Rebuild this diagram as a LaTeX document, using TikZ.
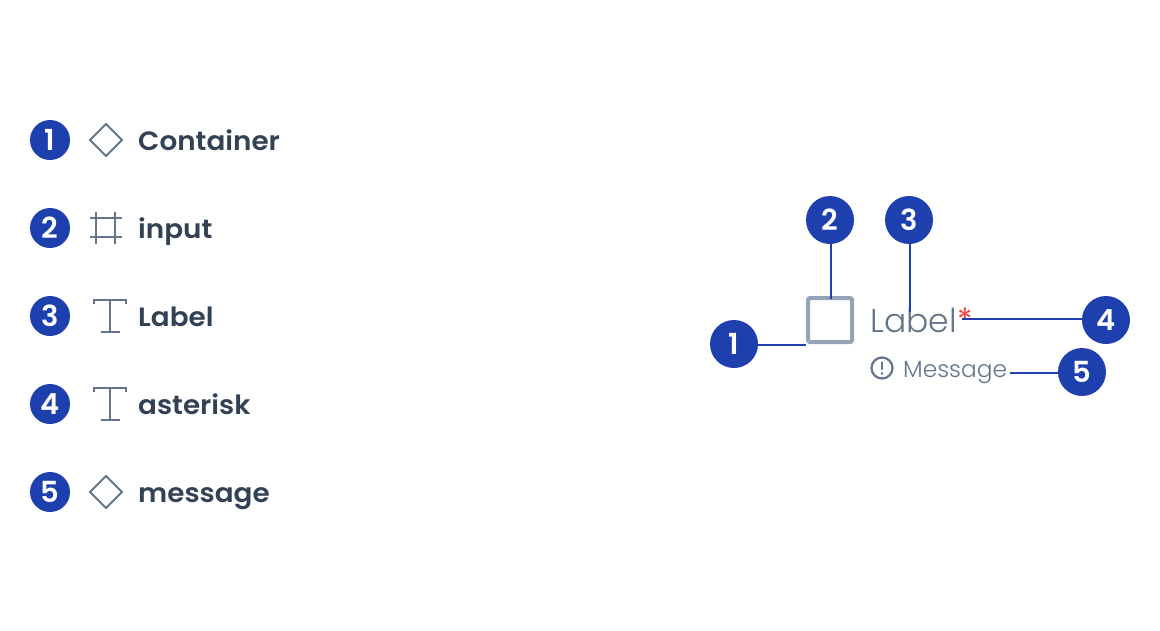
\documentclass[tikz,border=0pt]{standalone}
\usepackage{fontspec}
\setmainfont{Poppins}
\newfontfamily\med{Poppins SemiBold}
\newfontfamily\wmed[FakeStretch=1.05]{Poppins SemiBold}
\newfontfamily\reg{Poppins}
\newfontfamily\lite{Poppins Light}
\definecolor{badge}{HTML}{1E40AF}
\definecolor{ink}{HTML}{334155}
\definecolor{slate}{HTML}{64748B}
\definecolor{frame}{HTML}{94A3B8}
\definecolor{star}{HTML}{EF4444}
\tikzset{
 big/.style={circle,fill=badge,minimum size=48pt,inner sep=0pt,text=white,font=\med\fontsize{29}{29}\selectfont},
 small/.style={circle,fill=badge,minimum size=40pt,inner sep=0pt,text=white,font=\med\fontsize{29}{29}\selectfont},
 item/.style={anchor=base west,inner sep=0pt,text=ink,font=\wmed\fontsize{26.5}{26.5}\selectfont},
 icon/.style={draw=slate,line width=2pt},
 lead/.style={draw=badge,line width=2pt},
}
\begin{document}
\begin{tikzpicture}[x=1pt,y=-1pt]
\useasboundingbox (0,0) rectangle (1160,630);
\fill[white] (0,0) rectangle (1160,630);
% legend
\foreach \n/\y in {1/140,2/228,3/316,4/404,5/492}
  \node[small] (k\n) at (50,\y) {\n};
\node[item] (t1) at (138,150) {Container};
\node[item] (t2) at (138,238) {input};
\node[item] (t3) at (138,326) {Label};
\node[item] (t4) at (138,414) {asterisk};
\node[item] (t5) at (138,502) {message};
% icons
\draw[icon] (106,124) -- (122,140) -- (106,156) -- (90,140) -- cycle;
\draw[icon] (106,476) -- (122,492) -- (106,508) -- (90,492) -- cycle;
\draw[icon] (96,212) -- (96,244) (115,212) -- (115,244) (90,218) -- (122,218) (90,237) -- (122,237);
\draw[icon] (93.5,304) -- (93.5,299.5) -- (125.5,299.5) -- (125.5,304) (109.5,299.5) -- (109.5,332) (101,332) -- (120,332);
\draw[icon] (93.5,392) -- (93.5,387.5) -- (125.5,387.5) -- (125.5,392) (109.5,387.5) -- (109.5,420) (101,420) -- (120,420);
% component
\node[draw=frame,line width=4pt,rounded corners=2pt,fill=white,minimum size=44pt,inner sep=0pt] (box) at (830,320) {};
\node[anchor=base west,inner sep=0pt,text=slate,font=\lite\fontsize{33}{33}\selectfont] (lab) at (870,332) {Label};
\node[anchor=base west,inner sep=0pt,text=star,font=\reg\fontsize{32}{32}\selectfont] (ast) at (957.5,331) {*};
\node[anchor=base west,inner sep=0pt,text=slate,font=\lite\fontsize{23.3}{23.3}\selectfont] (msg) at (903,377) {Message};
\node[circle,draw=slate,line width=2.2pt,minimum size=21pt,inner sep=0pt] (warn) at (882,368) {};
\draw[slate,line width=2.2pt,line cap=round] (882,362.5) -- (882,369);
\fill[slate] (882,373.5) circle (1.4pt);
% callouts
\node[big] (c1) at (734,344) {1};
\node[big] (c2) at (830,220) {2};
\node[big] (c3) at (909,220) {3};
\node[big] (c4) at (1106,320) {4};
\node[big] (c5) at (1082,372) {5};
\coordinate (e1) at (806,345);
\coordinate (e2) at (831,299);
\coordinate (e3) at (910,312);
\coordinate (e4) at (962,319);
\coordinate (e5) at (1010,373);
\draw[lead] (c1.east |- e1) -- (e1);
\draw[lead] (c2.south -| e2) -- (e2);
\draw[lead] (c3.south -| e3) -- (e3);
\draw[lead] (c4.west |- e4) -- (e4);
\draw[lead] (c5.west |- e5) -- (e5);
\end{tikzpicture}
\end{document}
